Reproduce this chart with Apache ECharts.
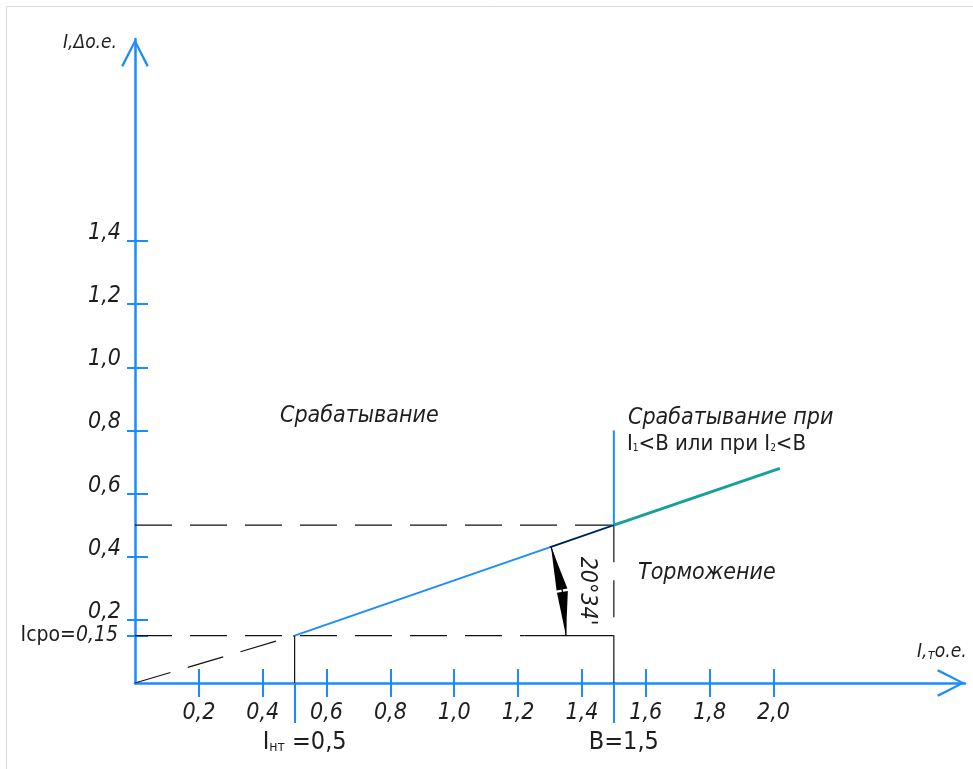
<!DOCTYPE html>
<html>
<head>
<meta charset="utf-8">
<script src="https://cdn.jsdelivr.net/npm/echarts@6/dist/echarts.min.js"></script>
<style>
  html, body { margin: 0; padding: 0; background: #fff; }
  #chart { width: 973px; height: 769px; }
</style>
</head>
<body>
<div id="chart"></div>
<script>
// Tick values on both axes (relative units)
const xTicks = [0.2, 0.4, 0.6, 0.8, 1.0, 1.2, 1.4, 1.6, 1.8, 2.0];
const yTicks = [0.2, 0.4, 0.6, 0.8, 1.0, 1.2, 1.4];

// Characteristic points
const Icpo = 0.15;   // minimum pick-up differential current
const Iht = 0.5;     // start of the restraint slope
const B = 1.5;       // breakpoint of the characteristic

// Restraint characteristic segments
const slopeMain = [[0.5, 0.15], [1.5, 0.5]];
const slopeDark = [[1.3, 0.43], [1.5, 0.5]];
const slopeExt = [[1.5, 0.5], [2.02, 0.68]];
const dashFromOrigin = [[0, 0], [0.5, 0.15]];
const dashIcpo = [[0, 0.15], [1.22, 0.15]];
const solidIcpo = [[1.22, 0.15], [1.5, 0.15]];
const dashLevelB = [[0, 0.5], [1.5, 0.5]];
const dashVertB = [[1.5, 0.5], [1.5, 0.15]];
const solidVertB = [[1.5, 0.15], [1.5, 0]];
const solidVertHt = [[0.5, 0], [0.5, 0.15]];
const blueVertB = [[1.5, 0.5], [1.5, 0.8]];
// Angle dimension: centre x, centre y, slope end x, slope end y, radius (x units)
const angleDim = [[0.5, 0.15, 1.5, 0.5, 0.85]];

const BLUE = '#1a8cff';
const INK = '#1e1e1e';
const LINE = '#111111';
const FONT = "'Liberation Sans Narrow', 'DejaVu Sans Condensed', 'Liberation Sans', sans-serif";
const ARROW = 'path://M14,0 L28,27 L26,28.5 L14,4.5 L2,28.5 L0,27 Z';

const fmt = v => v.toFixed(1).replace('.', ',');

function seg(data, color, width, dashed, z) {
  return {
    type: 'line', data: data, symbol: 'none', silent: true, z: z || 2,
    lineStyle: { color: color, width: width, type: dashed ? [37, 18] : 'solid' },
    animation: false
  };
}

function renderAngle(params, api) {
  const c = api.coord([api.value(0), api.value(1)]);
  const e = api.coord([api.value(2), api.value(3)]);
  const r = api.size([api.value(4), 0])[0];
  const th = Math.atan2(c[1] - e[1], e[0] - c[0]);
  const L = 44, W = 11;
  const phi = L / r;
  const pt = (a, rr) => [c[0] + rr * Math.cos(a), c[1] - rr * Math.sin(a)];
  return {
    type: 'group',
    children: [
      { type: 'arc', shape: { cx: c[0], cy: c[1], r: r, startAngle: -th, endAngle: 0, clockwise: true },
        style: { stroke: '#000', fill: null, lineWidth: 1.3 } },
      { type: 'polygon', shape: { points: [pt(th, r), pt(th - phi, r - W / 2), pt(th - phi, r + W / 2)] },
        style: { fill: '#000' } },
      { type: 'polygon', shape: { points: [pt(0, r), pt(phi, r - W / 2), pt(phi, r + W / 2)] },
        style: { fill: '#000' } }
    ]
  };
}

const chart = echarts.init(document.getElementById('chart'), null, { renderer: 'canvas' });

const italicLabel = { fontFamily: FONT, fontStyle: 'italic', fontSize: 23, color: INK };

const option = {
  backgroundColor: '#fff',
  animation: false,
  grid: { left: 135, right: 8, top: 39, bottom: 86, containLabel: false, outerBoundsMode: 'none' },
  xAxis: [
    {
      type: 'value', min: 0, max: 2.6, position: 'bottom', offset: 0,
      axisLine: { show: true, onZero: false, symbol: ['none', ARROW], symbolSize: [28, 28], symbolOffset: [0, -14],
        lineStyle: { color: BLUE, width: 2.5 } },
      axisTick: { show: true, inside: false, length: 14, customValues: xTicks, lineStyle: { color: BLUE, width: 2 } },
      axisLabel: Object.assign({ customValues: xTicks, margin: 19, formatter: fmt }, italicLabel),
      splitLine: { show: false }
    },
    {
      type: 'value', min: 0, max: 2.6, position: 'bottom', offset: 0,
      axisLine: { show: false, onZero: false },
      axisTick: { show: true, inside: true, length: 14, customValues: xTicks, lineStyle: { color: BLUE, width: 2 } },
      axisLabel: { show: false },
      splitLine: { show: false }
    },
    {
      type: 'value', min: 0, max: 2.6, position: 'bottom', offset: 0,
      axisLine: { show: false, onZero: false },
      axisTick: { show: true, inside: false, length: 40, customValues: [Iht, B], lineStyle: { color: BLUE, width: 2 } },
      axisLabel: {
        customValues: [Iht, B], margin: 47, fontFamily: FONT, fontSize: 24, color: INK,
        padding: [0, 0, 0, 20],
        formatter: v => v === Iht ? '{i|I}{s|нт}{n| =' + fmt(v) + '}' : '{n|B=' + fmt(v) + '}',
        rich: {
          i: { fontFamily: FONT, fontSize: 25, color: INK, verticalAlign: 'bottom' },
          s: { fontFamily: FONT, fontSize: 14, color: INK, verticalAlign: 'bottom', padding: [0, 0, 1, 0] },
          n: { fontFamily: FONT, fontSize: 25, color: INK, verticalAlign: 'bottom' }
        }
      },
      splitLine: { show: false }
    }
  ],
  yAxis: [
    {
      type: 'value', min: 0, max: 2.04, position: 'left', offset: 0,
      axisLine: { show: true, onZero: false, symbol: ['none', ARROW], symbolSize: [28, 28], symbolOffset: [0, -14],
        lineStyle: { color: BLUE, width: 2.5 } },
      axisTick: { show: true, inside: false, length: 8, customValues: yTicks.concat([Icpo]), lineStyle: { color: BLUE, width: 2 } },
      axisLabel: Object.assign({ customValues: yTicks, margin: 14, formatter: fmt, verticalAlign: 'bottom', lineHeight: 16 }, italicLabel),
      splitLine: { show: false }
    },
    {
      type: 'value', min: 0, max: 2.04, position: 'left', offset: 0,
      axisLine: { show: false, onZero: false },
      axisTick: { show: true, inside: true, length: 13, customValues: yTicks.concat([Icpo]), lineStyle: { color: BLUE, width: 2 } },
      axisLabel: { show: false },
      splitLine: { show: false }
    },
    {
      type: 'value', min: 0, max: 2.04, position: 'left', offset: 0,
      axisLine: { show: false, onZero: false },
      axisTick: { show: false },
      axisLabel: {
        customValues: [Icpo], margin: 17,
        formatter: v => '{u|Icpo=}{k|' + v.toFixed(2).replace('.', ',') + '}',
        rich: {
          u: { fontFamily: FONT, fontSize: 21, color: INK },
          k: { fontFamily: FONT, fontStyle: 'italic', fontSize: 21, color: INK }
        }
      },
      splitLine: { show: false }
    }
  ],
  series: [
    seg(dashFromOrigin, LINE, 1.2, true),
    seg(dashIcpo, LINE, 1.2, true),
    seg(solidIcpo, LINE, 1.2, false),
    seg(dashLevelB, LINE, 1.2, true),
    seg(dashVertB, LINE, 1.2, true),
    seg(solidVertB, LINE, 1.2, false),
    seg(solidVertHt, LINE, 1.2, false),
    seg(blueVertB, BLUE, 2, false, 3),
    seg(slopeMain, BLUE, 2, false, 4),
    seg(slopeDark, '#0a1a3a', 1.4, false, 5),
    seg(slopeExt, '#17a09b', 3, false, 4),
    {
      type: 'custom', renderItem: renderAngle, data: angleDim, silent: true, z: 6,
      encode: { x: 0, y: 1 }
    }
  ],
  graphic: [
    { type: 'rect', shape: { x: 6.5, y: 6.5, width: 1200, height: 1200 }, style: { fill: null, stroke: '#d8d8d8', lineWidth: 1 }, silent: true, z: -1 },
    { type: 'text', left: 63, top: 34, style: { text: 'I,Δо.е.', font: "italic 19px " + FONT, fill: INK } },
    { type: 'text', left: 917, top: 643, style: { text: '{a|I,}{b|т}{a|о.е.}', rich: {
        a: { font: "italic 19px " + FONT, fill: INK, verticalAlign: 'bottom' },
        b: { font: "italic 14px " + FONT, fill: INK, verticalAlign: 'bottom' } } } },
    { type: 'text', left: 280, top: 405, style: { text: 'Срабатывание', font: "italic 23px " + FONT, fill: INK } },
    { type: 'text', left: 628, top: 407, style: { text: 'Срабатывание при', font: "italic 23px " + FONT, fill: INK } },
    { type: 'text', left: 627, top: 433, style: { text: '{a|I}{s|1}{a|<B или при I}{s|2}{a|<B}', rich: {
        a: { font: "22px " + FONT, fill: INK, verticalAlign: 'bottom' },
        s: { font: "10px " + FONT, fill: INK, verticalAlign: 'bottom', padding: [0, 0, 2, 0] } } } },
    { type: 'text', left: 638, top: 562, style: { text: 'Торможение', font: "italic 23px " + FONT, fill: INK } },
    { type: 'text', x: 587, y: 591, rotation: -Math.PI / 2,
      style: { text: "20°34'", font: "italic 23px " + FONT, fill: INK, align: 'center', verticalAlign: 'middle' } }
  ]
};

chart.setOption(option);
</script>
</body>
</html>
